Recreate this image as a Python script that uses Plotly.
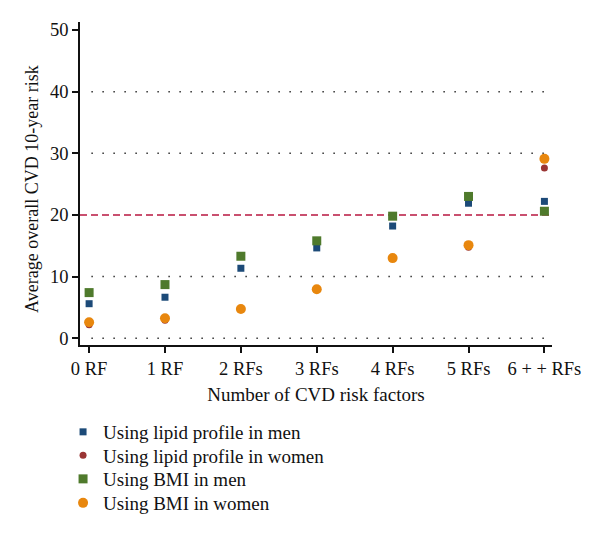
import plotly.graph_objects as go

categories = ["0 RF", "1 RF", "2 RFs", "3 RFs", "4 RFs", "5 RFs", "6 + + RFs"]
lipid_men = [5.6, 6.65, 11.35, 14.65, 18.2, 21.9, 22.2]
lipid_women = [2.2, 2.9, 4.7, 7.9, 13.0, 14.75, 27.6]
bmi_men = [7.4, 8.7, 13.3, 15.8, 19.8, 23.0, 20.6]
bmi_women = [2.6, 3.25, 4.75, 7.95, 13.0, 15.1, 29.1]
grid_values = [0, 10, 30, 40]
threshold = 20
y_ticks = [0, 10, 20, 30, 40, 50]

xs = list(range(len(categories)))
FONT = "Liberation Serif"

fig = go.Figure()
fig.add_trace(go.Scatter(x=xs, y=lipid_men, mode="markers", name="Using lipid profile in men",
                         legend="legend",
                         marker=dict(symbol="square", size=7, color="#1c4a78", line=dict(width=0))))
fig.add_trace(go.Scatter(x=xs, y=lipid_women, mode="markers", name="Using lipid profile in women",
                         legend="legend2",
                         marker=dict(symbol="circle", size=7, color="#9a3534", line=dict(width=0))))
fig.add_trace(go.Scatter(x=xs, y=bmi_men, mode="markers", name="Using BMI in men",
                         legend="legend3",
                         marker=dict(symbol="square", size=9, color="#4f7a2c", line=dict(width=0))))
fig.add_trace(go.Scatter(x=xs, y=bmi_women, mode="markers", name="Using BMI in women",
                         legend="legend4",
                         marker=dict(symbol="circle", size=10, color="#e8870e", line=dict(width=0))))

for g in grid_values:
    fig.add_shape(type="line", xref="x", yref="y", x0=0.03, x1=6.0, y0=g, y1=g,
                  line=dict(color="#333333", width=1.5, dash="1.5px,9.5px"), layer="below")
fig.add_shape(type="line", xref="x domain", yref="y", x0=0, x1=1, y0=threshold, y1=threshold,
              line=dict(color="#c9506f", width=2, dash="7px,4px"), layer="below")

fig.add_annotation(text="Average overall CVD 10-year risk", xref="paper", yref="paper",
                   x=-0.036, y=0.483, xanchor="center", yanchor="middle", textangle=-90,
                   showarrow=False, font=dict(family=FONT, size=18, color="#111111"))

legend_style = dict(x=0.026, xanchor="left", yanchor="middle", orientation="v",
                    font=dict(family=FONT, size=19), itemsizing="trace",
                    bgcolor="rgba(0,0,0,0)", borderwidth=0)

fig.update_layout(
    width=600, height=535,
    margin=dict(l=42, r=56, t=14, b=198, autoexpand=False),
    paper_bgcolor="white", plot_bgcolor="white",
    font=dict(family=FONT, size=16, color="#111111"),
    showlegend=True,
    legend=dict(y=-0.2693, **legend_style),
    legend2=dict(y=-0.3421, **legend_style),
    legend3=dict(y=-0.4149, **legend_style),
    legend4=dict(y=-0.4892, **legend_style),
    xaxis=dict(domain=[30 / 502, 1], range=[-0.12, 6.1], tickmode="array", tickvals=xs,
               ticktext=categories, automargin=False,
               showgrid=False, zeroline=False, showline=True, linecolor="#111111", linewidth=1.5,
               ticks="outside", ticklen=6, tickwidth=1.5, tickcolor="#111111",
               title=dict(text="Number of CVD risk factors", font=dict(size=19), standoff=10),
               tickfont=dict(size=18.5)),
    yaxis=dict(range=[-1.1, 51.3], tickmode="array", tickvals=y_ticks, automargin=False,
               showgrid=False, zeroline=False, showline=True, linecolor="#111111", linewidth=1.5,
               ticks="outside", ticklen=6, tickwidth=1.5, tickcolor="#111111",
               tickfont=dict(size=18.5)),
)

fig.write_html("out.html")
